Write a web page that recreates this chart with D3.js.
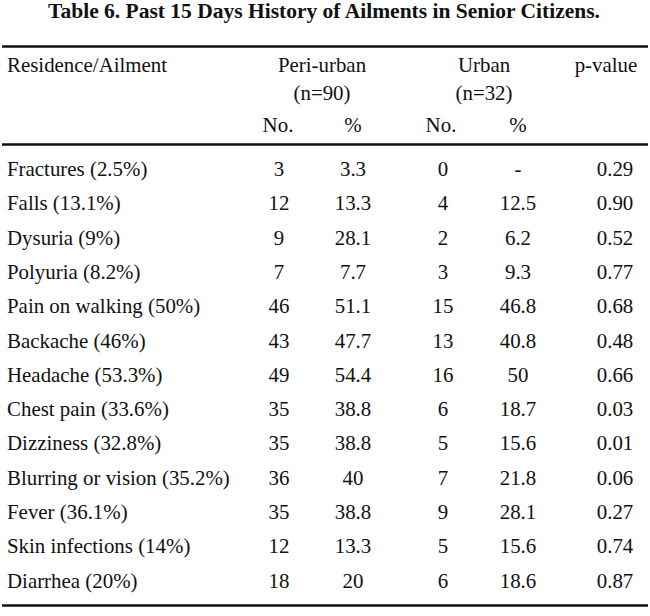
<!DOCTYPE html>
<html><head><meta charset="utf-8">
<script src="https://cdn.jsdelivr.net/npm/d3@7"></script>
<style>body{margin:0;background:#fff}svg{display:block}text{font-family:"Liberation Serif","Times New Roman",serif;fill:#111}</style>
</head><body><svg id="c" width="650" height="616"></svg>
<script>
const title = "Table 6. Past 15 Days History of Ailments in Senior Citizens.";
const ailments = ["Fractures (2.5%)","Falls (13.1%)","Dysuria (9%)","Polyuria (8.2%)","Pain on walking (50%)","Backache (46%)","Headache (53.3%)","Chest pain (33.6%)","Dizziness (32.8%)","Blurring or vision (35.2%)","Fever (36.1%)","Skin infections (14%)","Diarrhea (20%)"];
const periNo = ["3","12","9","7","46","43","49","35","35","36","35","12","18"];
const periPct = ["3.3","13.3","28.1","7.7","51.1","47.7","54.4","38.8","38.8","40","38.8","13.3","20"];
const urbNo = ["0","4","2","3","15","13","16","6","5","7","9","5","6"];
const urbPct = ["-","12.5","6.2","9.3","46.8","40.8","50","18.7","15.6","21.8","28.1","15.6","18.6"];
const pValue = ["0.29","0.90","0.52","0.77","0.68","0.48","0.66","0.03","0.01","0.06","0.27","0.74","0.87"];
const columns = ["periNo","periPct","urbNo","urbPct","p"];

const svg = d3.select("#c");
// row baselines: first at 176, step ~34.3
const y = d3.scalePoint().domain(d3.range(ailments.length)).range([176, 587.6]);
const x = d3.scaleOrdinal().domain(columns).range([279, 353, 443, 518, 615]);
const fs = 20.5;
const sx = 1.02;

function txt(xp, yp, s, anchor, opts={}) {
  const g = svg.append("g").attr("transform", `translate(${xp},${yp}) scale(${opts.sx||sx},1)`);
  g.append("text").attr("text-anchor", anchor).attr("font-size", opts.fs||fs)
    .attr("font-weight", opts.bold?"bold":null).text(s);
}

txt(324, 18, title, "middle", {bold:true, fs:21.5, sx:1.0});

function rule(yp, w) {
  svg.append("line").attr("x1",2).attr("x2",648).attr("y1",yp).attr("y2",yp)
    .attr("stroke","#111").attr("stroke-width",w);
}
rule(46.5, 2.5);
rule(144.5, 2.5);
rule(605.5, 2.5);

txt(7, 72, "Residence/Ailment", "start");
txt(322, 72, "Peri-urban", "middle");
txt(322, 100, "(n=90)", "middle");
txt(484, 72, "Urban", "middle");
txt(484, 100, "(n=32)", "middle");
txt(606, 72, "p-value", "middle");
txt(278, 132, "No.", "middle");
txt(353, 132, "%", "middle");
txt(441, 132, "No.", "middle");
txt(518, 132, "%", "middle");

const rows = ailments.map((a,i)=>({a, vals:[periNo[i],periPct[i],urbNo[i],urbPct[i],pValue[i]]}));
rows.forEach((r,i)=>{
  const yy = y(i);
  txt(7, yy, r.a, "start");
  r.vals.forEach((v,j)=> txt(x(columns[j]), yy, v, "middle"));
});
</script></body></html>
